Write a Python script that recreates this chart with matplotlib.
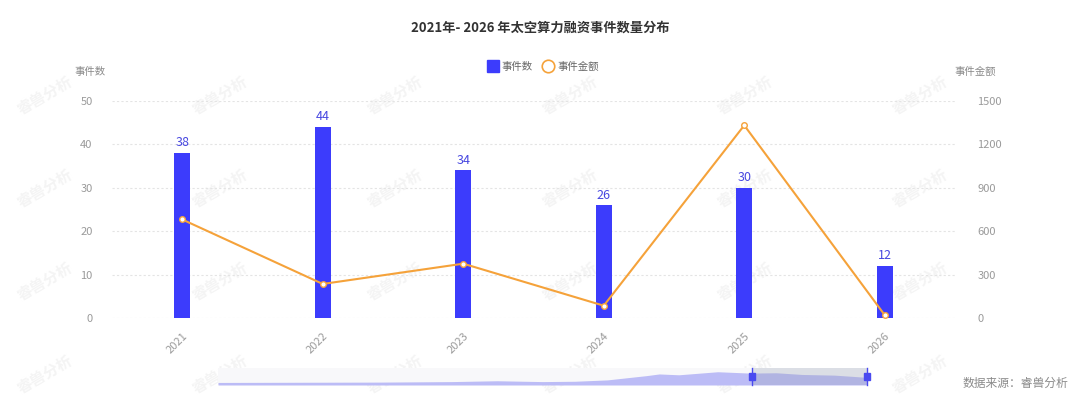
import matplotlib
matplotlib.use("Agg")
import matplotlib.pyplot as plt
from matplotlib.lines import Line2D
from matplotlib.patches import Rectangle

plt.rcParams['font.family'] = ['Noto Sans CJK SC', 'DejaVu Sans']

# ---- data ----
years = ["2021", "2022", "2023", "2024", "2025", "2026"]
event_counts = [38, 44, 34, 26, 30, 12]
event_amounts = [680, 235, 375, 85, 1330, 20]
left_ticks = [0, 10, 20, 30, 40, 50]
right_ticks = [0, 300, 600, 900, 1200, 1500]
# dataZoom shadow profile (relative heights along the slider)
slider_pos = [0, 0.12, 0.25, 0.36, 0.43, 0.5, 0.55, 0.6, 0.66, 0.68, 0.71, 0.77, 0.82, 0.86, 0.9, 0.95, 1.0]
slider_val = [0.15, 0.16, 0.17, 0.2, 0.25, 0.2, 0.22, 0.3, 0.55, 0.65, 0.6, 0.78, 0.7, 0.72, 0.62, 0.58, 0.45]

W, H = 1080, 400
fig = plt.figure(figsize=(W / 100, H / 100), dpi=100)
fig.patch.set_facecolor("white")

def fx(px):
    return px / W

def fy(py):
    return 1 - py / H

# watermarks on a background axes (behind everything)
bg = fig.add_axes([0, 0, 1, 1], zorder=-5)
bg.set_xlim(0, W)
bg.set_ylim(H, 0)
bg.axis("off")
for yy in [95, 188, 281, 374]:
    for xx in range(45, 1040, 175):
        bg.text(xx, yy, "睿兽分析", fontsize=11, color="#f4f4f4",
                rotation=30, ha="center", va="center", fontweight="bold")

ax = fig.add_axes([fx(112), fy(318), fx(955 - 112), (318 - 100.7) / H], zorder=1)
ax.set_facecolor("none")
x = list(range(len(years)))
ax.bar(x, event_counts, width=16 / 140.5, color="#3c3cfc", zorder=3)
for xi, v in zip(x, event_counts):
    ax.text(xi, v + 0.8, str(v), ha="center", va="bottom", fontsize=9,
            color="#4747e0", zorder=4, fontweight="medium")
ax.set_xlim(-0.5, len(years) - 0.5)
ax.set_ylim(0, 50)
ax.set_yticks(left_ticks)
ax.set_yticklabels([str(t) for t in left_ticks])
ax.set_xticks(x)
ax.set_xticklabels(years, rotation=45, ha="right", rotation_mode="anchor")
ax.tick_params(axis="x", length=0, pad=9, labelsize=8, labelcolor="#9a9a9a")
ax.tick_params(axis="y", length=0, pad=14, labelsize=8, labelcolor="#9a9a9a")
for s in ax.spines.values():
    s.set_visible(False)
ax.grid(axis="y", color="#e4e4e4", linestyle=(0, (2, 2)), linewidth=0.8, zorder=0)
ax.set_axisbelow(True)

ax2 = ax.twinx()
ax2.plot(x, event_amounts, color="#f5a23a", linewidth=1.5, zorder=5,
         marker="o", markersize=4, markerfacecolor="white", markeredgecolor="#f5a23a",
         markeredgewidth=1.0)
ax2.set_ylim(0, 1500)
ax2.set_yticks(right_ticks)
ax2.set_yticklabels([str(t) for t in right_ticks])
ax2.tick_params(axis="y", length=0, pad=16, labelsize=8, labelcolor="#9a9a9a")
for s in ax2.spines.values():
    s.set_visible(False)

# title
fig.text(0.5, fy(28), "2021年- 2026 年太空算力融资事件数量分布", ha="center", va="center",
         fontsize=9.5, fontweight="bold", color="#333333")
# axis names
fig.text(fx(90), fy(72), "事件数", ha="center", va="center", fontsize=7.5, color="#8a8a8a")
fig.text(fx(975), fy(72), "事件金额", ha="center", va="center", fontsize=7.5, color="#8a8a8a")

# legend
handles = [
    Line2D([], [], linestyle="none", marker="s", markersize=9, color="#3c3cfc",
           markeredgecolor="#3c3cfc"),
    Line2D([], [], linestyle="none", marker="o", markersize=9, markerfacecolor="white",
           markeredgecolor="#f5a23a", markeredgewidth=1.2),
]
fig.legend(handles, ["事件数", "事件金额"], loc="center", bbox_to_anchor=(fx(543), fy(67)),
           ncol=2, frameon=False, fontsize=7.5, labelcolor="#666666",
           handlelength=1.0, handletextpad=0.4, columnspacing=0.9)

# dataZoom slider
sax = fig.add_axes([fx(218), fy(385), fx(867 - 218), 17 / H], zorder=1)
sax.set_xlim(0, 1)
sax.set_ylim(0, 1)
sax.axis("off")
sax.add_patch(Rectangle((0, 0), 1, 1, facecolor="#f8f8fa", edgecolor="none", zorder=0))
sax.fill_between(slider_pos, 0, slider_val, color="#bcbcf6", linewidth=0, zorder=1)
sel0 = (752 - 218) / (867 - 218)
sax.add_patch(Rectangle((sel0, 0), 1 - sel0, 1, facecolor="#9aa3b5", alpha=0.3,
                        edgecolor="none", zorder=2))
for hx in (sel0, 1.0):
    sax.plot([hx, hx], [0, 1], color="#4a4af0", linewidth=1.0, zorder=3, clip_on=False)
    sax.add_patch(Rectangle((hx - 0.004, 0.3), 0.008, 0.4, facecolor="#4a4af0",
                            edgecolor="#4a4af0", zorder=4, clip_on=False))

fig.text(fx(1068), fy(383), "数据来源：睿兽分析", ha="right", va="center", fontsize=8.5,
         color="#8a8a8a")

fig.savefig("out.png", dpi=100, facecolor="white")
